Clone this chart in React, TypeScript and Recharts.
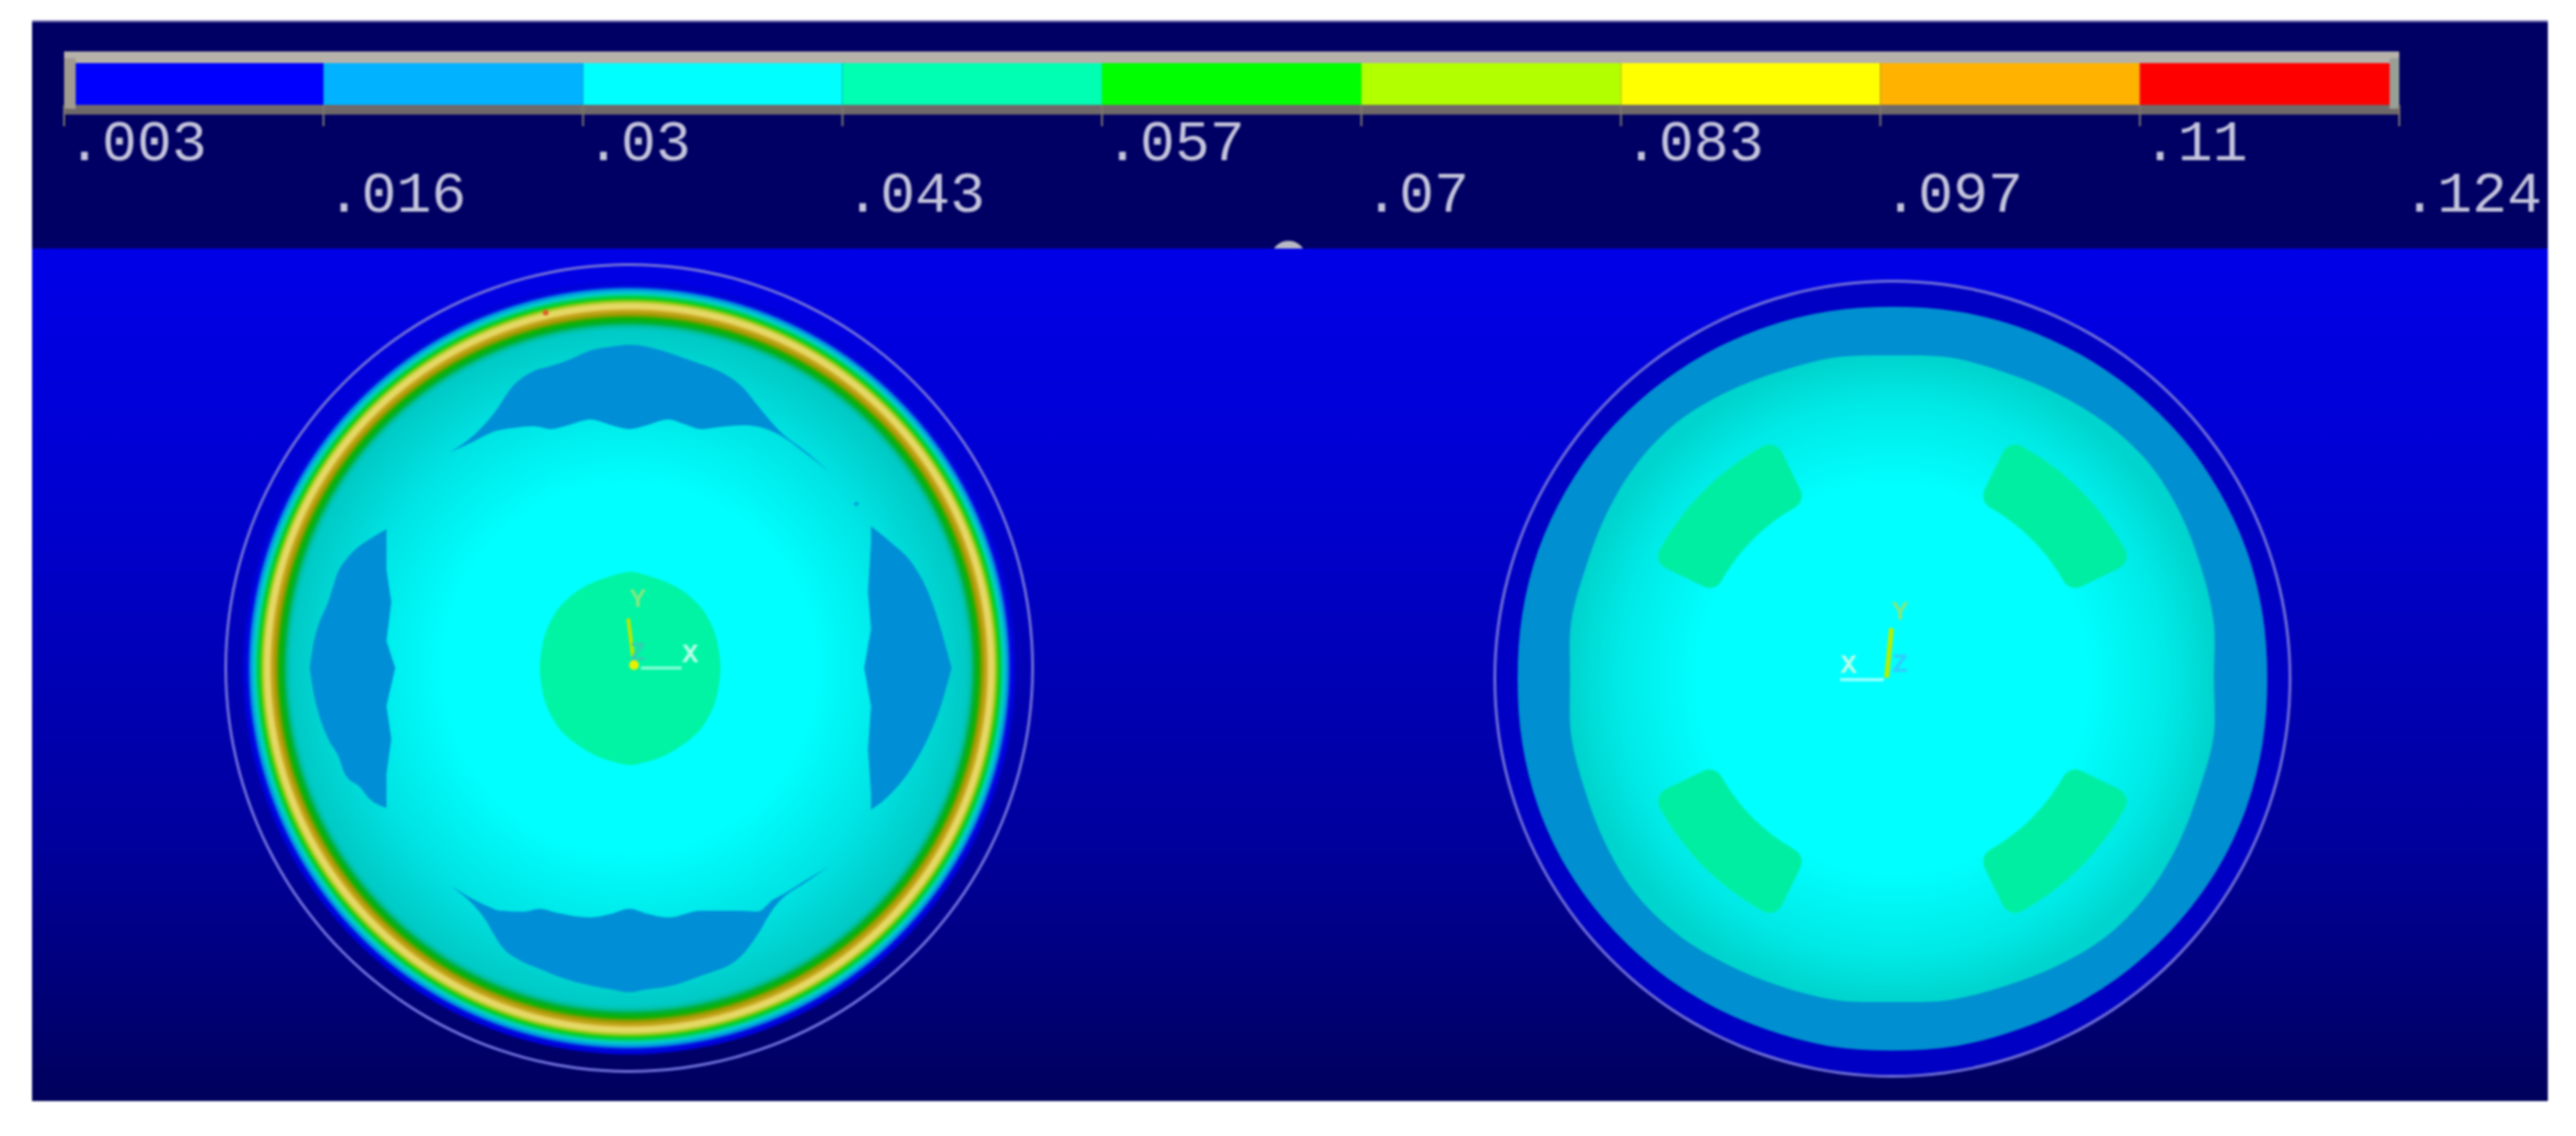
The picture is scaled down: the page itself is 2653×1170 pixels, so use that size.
import React from 'react';
import {
  ComposedChart, PieChart, Pie, Cell, RadarChart, Radar, PolarAngleAxis, PolarRadiusAxis,
  BarChart, Bar, Area, Scatter, XAxis, YAxis, ReferenceArea, ReferenceLine, ReferenceDot,
} from 'recharts';

const W = 2653;
const H = 1170;

// Contour legend
const levelEdges = [0.003, 0.01644, 0.02989, 0.04333, 0.05678, 0.07022, 0.08367, 0.09711, 0.11056, 0.124];
const levelLabels = ['.003', '.016', '.03', '.043', '.057', '.07', '.083', '.097', '.11', '.124'];
const bandColors = ['#0000ff', '#00b2ff', '#00ffff', '#00ffb2', '#00ff00', '#b2ff00', '#ffff00', '#ffb200', '#ff0000'];
const bandWidths = [0.01284, 0.01345, 0.01344, 0.01345, 0.01344, 0.01345, 0.01344, 0.01345, 0.01294];
const legendStart = 0.0036;

// Left disc: radial contour (radius, colour)
const leftBandRadius = [0, 190, 280, 348, 352, 356, 360, 364, 368, 371, 375, 378, 381, 386, 390, 393, 398];
const leftBandColors = ['#00ffff', '#00ffff', '#00e4e4', '#00cac6', '#00c0a0', '#00b030', '#10b000', '#a09800', '#c8a820', '#e8d868', '#e0d860', '#90c810', '#00d020', '#00d0d0', '#0090e0', '#0008e0', '#0000d4'];

// Blobs of the left disc, read as [x, edge, edge]
const topBlobX = [463, 487, 510, 527, 550, 567, 585, 608, 630, 648, 666, 688, 705, 722, 740, 765, 783, 803, 831, 854];
const topBlobUpper = [466, 449, 424, 399, 382, 377, 371, 361, 357, 355, 357, 363, 369, 375, 382, 399, 421, 444, 466, 486];
const topBlobLower = [466, 455, 444, 441, 439, 442, 438, 432, 438, 442, 438, 432, 437, 442, 440, 438, 440, 448, 468, 486];

const bottomBlobX = [464, 499, 516, 539, 556, 573, 608, 630, 648, 666, 688, 722, 763, 780, 797, 803, 831, 854];
const bottomBlobUpper = [912, 932, 938, 939, 936, 940, 945, 941, 936, 941, 945, 938, 938, 939, 926, 923, 906, 892];
const bottomBlobLower = [912, 946, 974, 991, 998, 1005, 1015, 1019, 1022, 1019, 1016, 1005, 985, 963, 935, 928, 908, 892];

const leftBlobX = [319, 323, 326, 338, 349, 355, 372, 378, 398];
const leftBlobUpper = [688, 662, 650, 620, 587, 578, 561, 557, 545];
const leftBlobLower = [688, 714, 727, 761, 780, 797, 812, 820, 832];

const rightBlobX = [897, 918, 940, 958, 969, 980];
const rightBlobUpper = [542, 559, 581, 615, 648, 688];
const rightBlobLower = [834, 817, 789, 755, 727, 688];

// Wavy inner edges of the side blobs: base x, base from, base to, tip x, tip y
const toothBaseX = [398, 398, 398, 897, 897, 897];
const toothFrom = [587, 660, 727, 559, 648, 727];
const toothTo = [660, 727, 797, 648, 727, 817];
const toothTipX = [403, 407, 403, 894, 890, 894];
const toothTipY = [620, 688, 761, 609, 688, 772];

// Polar outlines, one radius each 10 degrees clockwise from the top
const spokes = ['0', '10', '20', '30', '40', '50', '60', '70', '80', '90', '100', '110', '120', '130', '140', '150', '160', '170', '180', '190', '200', '210', '220', '230', '240', '250', '260', '270', '280', '290', '300', '310', '320', '330', '340', '350'];
const rightOuterRadius = [383, 384, 385, 386, 387, 388, 388, 388, 387, 386, 387, 388, 388, 387, 386, 385, 384, 384, 383, 384, 384, 385, 386, 387, 388, 388, 387, 386, 387, 388, 388, 388, 387, 386, 385, 384];
const rightInnerRadius = [333, 336, 336, 339, 343, 345, 342, 338, 336, 331, 336, 336, 340, 344, 345, 341, 337, 336, 333, 336, 337, 340, 344, 345, 341, 337, 336, 332, 336, 336, 340, 344, 345, 341, 337, 336];
const centreRadius = [99, 97, 96, 96, 96, 96, 95, 94, 93, 93, 93, 94, 95, 96, 96, 96, 97, 98, 100, 98, 97, 96, 96, 96, 95, 94, 93, 93, 93, 94, 95, 96, 96, 96, 96, 97];

// Green patches of the right disc: patch and gap sweeps in degrees
const patchSweeps = [38, 52, 38, 52, 38, 52, 38, 52];

// Coordinate triads
const leftTriadLabels = [
  { x: 657, y: 625, name: 'Y', tone: 'y' },
  { x: 711, y: 682, name: 'X', tone: 'x' },
];
const rightTriadLabels = [
  { x: 1957, y: 638, name: 'Y', tone: 'y' },
  { x: 1904, y: 693, name: 'X', tone: 'x' },
  { x: 1957, y: 692, name: 'Z', tone: 'z' },
];
const leftZLabel = [{ x: 657, y: 680, name: 'Z', tone: 'zl' }];

const toneColors: Record<string, string> = { y: '#80e880', x: '#b8ffe8', z: '#30ccff', zl: '#30d0b0' };

const spokeRows = spokes.map((a, i) => ({
  a,
  outer: rightOuterRadius[i],
  inner: rightInnerRadius[i],
  centre: centreRadius[i],
}));
const rows = (xs: number[], upper: number[], lower: number[]) => xs.map((x, i) => ({ x, band: [lower[i], upper[i]] }));
const blobSeries = [
  rows(topBlobX, topBlobUpper, topBlobLower),
  rows(bottomBlobX, bottomBlobUpper, bottomBlobLower),
  rows(leftBlobX, leftBlobUpper, leftBlobLower),
  rows(rightBlobX, rightBlobUpper, rightBlobLower),
];
const toothSeries = toothBaseX.map((x, i) => {
  const base = { x, band: [toothTo[i], toothFrom[i]] };
  const tip = { x: toothTipX[i], band: [toothTipY[i], toothTipY[i]] };
  return toothTipX[i] > x ? [base, tip] : [tip, base];
});
const legendRow: Record<string, any> = { row: 'scale', base: legendStart };
bandWidths.forEach((w, i) => { legendRow['b' + i] = w; });
const one = [{ value: 1 }];
const patchRows = patchSweeps.map((value) => ({ value }));

const layer: React.CSSProperties = { position: 'absolute', left: 0, top: 0 };
const noMargin = { top: 0, right: 0, bottom: 0, left: 0 };
const LABEL_FONT = '"Liberation Mono", monospace';

function Frame({ children }: any) {
  return (
    <div style={layer}>
      <ComposedChart width={W} height={H} margin={noMargin}>
        <XAxis type="number" dataKey="x" domain={[0, W]} hide allowDataOverflow />
        <YAxis type="number" domain={[0, H]} reversed hide allowDataOverflow />
        {children}
      </ComposedChart>
    </div>
  );
}

// Closed smooth outline through the points the Radar computed
const SmoothOutline = (p: any) => {
  const pts = p.points || [];
  const n = pts.length;
  if (!n) return null;
  let d = `M${pts[0].x},${pts[0].y}`;
  for (let i = 0; i < n; i++) {
    const a = pts[(i - 1 + n) % n];
    const b = pts[i];
    const c = pts[(i + 1) % n];
    const e = pts[(i + 2) % n];
    d += `C${b.x + (c.x - a.x) / 6},${b.y + (c.y - a.y) / 6} ${c.x - (e.x - b.x) / 6},${c.y - (e.y - b.y) / 6} ${c.x},${c.y}`;
  }
  return <path d={d + 'Z'} fill={p.fill} stroke="none" />;
};

const TriadText = (p: any) => (
  <text
    x={p.cx}
    y={p.cy}
    textAnchor="middle"
    fontFamily='"Liberation Mono", monospace'
    fontSize={28}
    fontWeight={700}
    fill={toneColors[p.payload.tone]}
  >
    {p.payload.name}
  </text>
);

const LegendTick = (p: any) => {
  const i = p.index;
  return (
    <text x={p.x + 3} y={i % 2 === 0 ? 165 : 218} textAnchor="start" fontFamily={LABEL_FONT} fontSize={60} fill="#c4c4dc">
      {levelLabels[i]}
    </text>
  );
};

export default function App() {
  return (
    <div style={{ position: 'absolute', left: 0, top: 0, width: W, height: H, background: '#fff', overflow: 'hidden', filter: 'blur(0.9px)' }}>
      <Frame>
        <ReferenceArea x1={33} x2={2624} y1={22} y2={260} fill="#000064" fillOpacity={1} stroke="none" />
      </Frame>

      <div style={layer}>
        <PieChart width={W} height={H} margin={noMargin}>
          <Pie data={one} dataKey="value" cx={1327} cy={266} outerRadius={18} startAngle={0} endAngle={180} stroke="none" fill="#b8b8c4" isAnimationActive={false} />
        </PieChart>
      </div>

      <Frame>
        <defs>
          <linearGradient id="bgFade" x1="0" y1="0" x2="0" y2="1">
            <stop offset="0" stopColor="#0000e8" />
            <stop offset="0.3" stopColor="#0000d0" />
            <stop offset="0.7" stopColor="#00009c" />
            <stop offset="1" stopColor="#00005c" />
          </linearGradient>
        </defs>
        <ReferenceArea x1={33} x2={2624} y1={256} y2={1134} fill="url(#bgFade)" fillOpacity={1} stroke="none" />
        <ReferenceArea x1={33} x2={2624} y1={21} y2={23} fill="#6464a8" fillOpacity={1} stroke="none" />
        <ReferenceArea x1={66} x2={2471} y1={53} y2={65} fill="#b6b2aa" fillOpacity={1} stroke="none" />
        <ReferenceArea x1={66} x2={2471} y1={108} y2={118} fill="#70696a" fillOpacity={1} stroke="none" />
        <ReferenceArea x1={66} x2={78} y1={60} y2={112} fill="#a09a90" fillOpacity={1} stroke="none" />
        <ReferenceArea x1={2461} x2={2471} y1={60} y2={112} fill="#98a096" fillOpacity={1} stroke="none" />
      </Frame>

      <div style={layer}>
        <PieChart width={W} height={H} margin={noMargin}>
          <defs>
            <radialGradient id="leftDisc" cx="0.5" cy="0.5" r="0.5">
              {leftBandRadius.map((r, i) => (
                <stop key={i} offset={r / 398} stopColor={leftBandColors[i]} />
              ))}
            </radialGradient>
          </defs>
          <Pie data={one} dataKey="value" cx={648} cy={688} innerRadius={414} outerRadius={417} startAngle={0} endAngle={360} stroke="none" fill="#6c6cd8" isAnimationActive={false} />
          <Pie data={one} dataKey="value" cx={648} cy={688} outerRadius={398} startAngle={0} endAngle={360} stroke="none" fill="url(#leftDisc)" isAnimationActive={false} />
          <Pie data={one} dataKey="value" cx={1949} cy={699} outerRadius={408} startAngle={0} endAngle={360} stroke="none" fill="#0000c4" isAnimationActive={false} />
          <Pie data={one} dataKey="value" cx={1949} cy={699} innerRadius={408} outerRadius={411} startAngle={0} endAngle={360} stroke="none" fill="#6c6cd8" isAnimationActive={false} />
        </PieChart>
      </div>

      <Frame>
        {blobSeries.map((d, i) => (
          <Area key={i} data={d} dataKey="band" type="monotoneX" fill="#008fd6" fillOpacity={1} stroke="none" isAnimationActive={false} dot={false} activeDot={false} />
        ))}
        {toothSeries.map((d, i) => (
          <Area key={'t' + i} data={d} dataKey="band" type="linear" fill="#008fd6" fillOpacity={1} stroke="none" isAnimationActive={false} dot={false} activeDot={false} />
        ))}
      </Frame>

      <div style={layer}>
        <RadarChart width={W} height={H} cx={1949} cy={699} outerRadius={400} data={spokeRows} margin={noMargin}>
          <defs>
            <radialGradient id="rightCore" cx="0.5" cy="0.5" r="0.5">
              <stop offset="0" stopColor="#00ffff" />
              <stop offset="0.6" stopColor="#00ffff" />
              <stop offset="0.85" stopColor="#00eae6" />
              <stop offset="1" stopColor="#00d4ce" />
            </radialGradient>
          </defs>
          <PolarAngleAxis dataKey="a" tick={false} axisLine={false} tickLine={false} />
          <PolarRadiusAxis domain={[0, 400]} tick={false} axisLine={false} tickLine={false} />
          <Radar dataKey="outer" fill="#008fd0" fillOpacity={1} stroke="none" isAnimationActive={false} shape={SmoothOutline} />
          <Radar dataKey="inner" fill="url(#rightCore)" fillOpacity={1} stroke="none" isAnimationActive={false} shape={SmoothOutline} />
        </RadarChart>
      </div>

      <div style={layer}>
        <RadarChart width={W} height={H} cx={649} cy={688} outerRadius={400} data={spokeRows} margin={noMargin}>
          <PolarAngleAxis dataKey="a" tick={false} axisLine={false} tickLine={false} />
          <PolarRadiusAxis domain={[0, 400]} tick={false} axisLine={false} tickLine={false} />
          <Radar dataKey="centre" fill="#00f4a4" fillOpacity={1} stroke="none" isAnimationActive={false} shape={SmoothOutline} />
        </RadarChart>
      </div>

      <div style={layer}>
        <PieChart width={W} height={H} margin={noMargin}>
          <Pie data={patchRows} dataKey="value" cx={1949} cy={699} innerRadius={203} outerRadius={274} startAngle={26} endAngle={386} cornerRadius={14} stroke="none" isAnimationActive={false}>
            {patchRows.map((_, i) => (
              <Cell key={i} fill={i % 2 === 0 ? '#00eea2' : 'none'} />
            ))}
          </Pie>
        </PieChart>
      </div>

      <Frame>
        <ReferenceLine segment={[{ x: 660, y: 688 }, { x: 702, y: 688 }]} stroke="#90ffd8" strokeWidth={3} />
        <ReferenceLine segment={[{ x: 647, y: 637 }, { x: 653, y: 685 }]} stroke="#b8e800" strokeWidth={4} />
        <ReferenceDot x={653} y={685} r={5} fill="#e8f000" stroke="none" />
        <ReferenceDot x={882} y={519} r={2} fill="#0090d8" stroke="none" />
        <ReferenceDot x={562} y={322} r={3} fill="#e06028" stroke="none" />
        <ReferenceLine segment={[{ x: 1895, y: 700 }, { x: 1940, y: 700 }]} stroke="#a8ffff" strokeWidth={3} />
        <ReferenceLine segment={[{ x: 1948, y: 647 }, { x: 1943, y: 698 }]} stroke="#b4f000" strokeWidth={5} />
        <Scatter data={leftTriadLabels} dataKey="y" shape={TriadText} isAnimationActive={false} />
        <Scatter data={leftZLabel} dataKey="y" shape={TriadText} isAnimationActive={false} />
        <Scatter data={rightTriadLabels} dataKey="y" shape={TriadText} isAnimationActive={false} />
      </Frame>

      <div style={layer}>
        <BarChart
          width={W}
          height={240}
          layout="vertical"
          data={[legendRow]}
          margin={{ top: 65, right: W - 2471, bottom: 0, left: 66 }}
          barCategoryGap={0}
        >
          <XAxis
            type="number"
            domain={[0.003, 0.124]}
            ticks={levelEdges}
            interval={0}
            allowDataOverflow
            height={132}
            axisLine={false}
            tickSize={22}
            tickLine={{ stroke: '#7c766e', strokeWidth: 2 }}
            tick={LegendTick}
          />
          <YAxis type="category" dataKey="row" hide />
          <Bar dataKey="base" stackId="s" fill="none" isAnimationActive={false} />
          {bandColors.map((c, i) => (
            <Bar key={i} dataKey={'b' + i} stackId="s" fill={c} isAnimationActive={false} />
          ))}
        </BarChart>
      </div>
    </div>
  );
}
